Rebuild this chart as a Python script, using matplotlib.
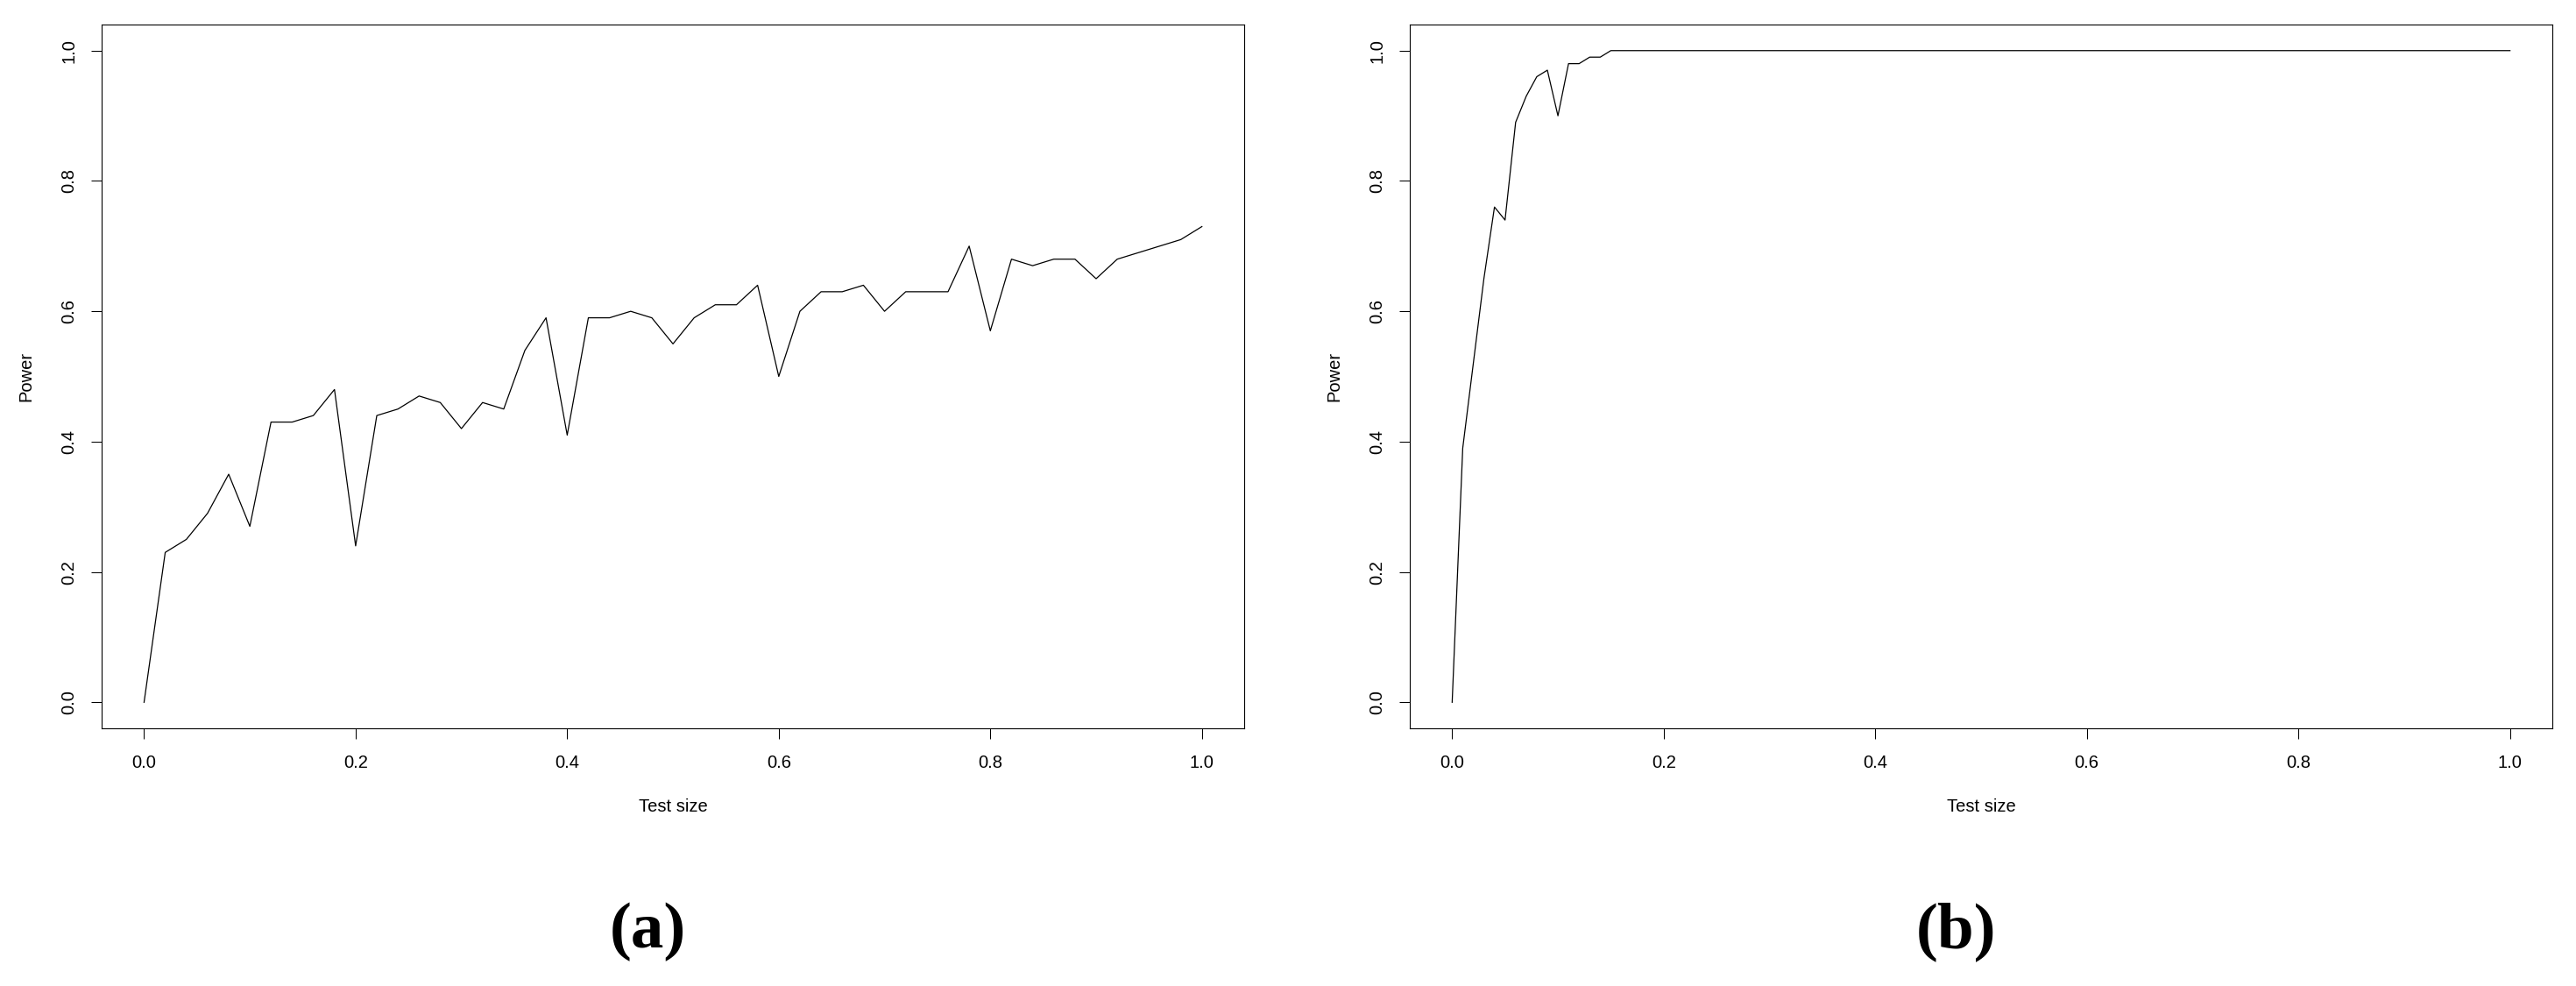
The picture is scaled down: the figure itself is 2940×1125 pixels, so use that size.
import matplotlib.pyplot as plt

# Datos
tam_a = [0.00, 0.02, 0.04, 0.06, 0.08, 0.10, 0.12, 0.14, 0.16, 0.18,
         0.20, 0.22, 0.24, 0.26, 0.28, 0.30, 0.32, 0.34, 0.36, 0.38,
         0.40, 0.42, 0.44, 0.46, 0.48, 0.50, 0.52, 0.54, 0.56, 0.58,
         0.60, 0.62, 0.64, 0.66, 0.68, 0.70, 0.72, 0.74, 0.76, 0.78,
         0.80, 0.82, 0.84, 0.86, 0.88, 0.90, 0.92, 0.94, 0.96, 0.98,
         1.00]
potencia_a = [0.00, 0.23, 0.25, 0.29, 0.35, 0.27, 0.43, 0.43, 0.44, 0.48,
              0.24, 0.44, 0.45, 0.47, 0.46, 0.42, 0.46, 0.45, 0.54, 0.59,
              0.41, 0.59, 0.59, 0.60, 0.59, 0.55, 0.59, 0.61, 0.61, 0.64,
              0.50, 0.60, 0.63, 0.63, 0.64, 0.60, 0.63, 0.63, 0.63, 0.70,
              0.57, 0.68, 0.67, 0.68, 0.68, 0.65, 0.68, 0.69, 0.70, 0.71,
              0.73]

tam_b = [0.00, 0.01, 0.02, 0.03, 0.04, 0.05, 0.06, 0.07, 0.08, 0.09,
         0.10, 0.11, 0.12, 0.13, 0.14, 0.15, 0.16, 0.17, 0.18, 0.19,
         0.20, 0.21, 0.22, 0.23, 0.24, 0.25, 0.26, 0.27, 0.28, 0.29,
         0.30, 0.31, 0.32, 0.33, 0.34, 0.35, 0.36, 0.37, 0.38, 0.39,
         0.40, 0.41, 0.42, 0.43, 0.44, 0.45, 0.46, 0.47, 0.48, 0.49,
         0.50, 0.51, 0.52, 0.53, 0.54, 0.55, 0.56, 0.57, 0.58, 0.59,
         0.60, 0.61, 0.62, 0.63, 0.64, 0.65, 0.66, 0.67, 0.68, 0.69,
         0.70, 0.71, 0.72, 0.73, 0.74, 0.75, 0.76, 0.77, 0.78, 0.79,
         0.80, 0.81, 0.82, 0.83, 0.84, 0.85, 0.86, 0.87, 0.88, 0.89,
         0.90, 0.91, 0.92, 0.93, 0.94, 0.95, 0.96, 0.97, 0.98, 0.99,
         1.00]
potencia_b = [0.00, 0.39, 0.52, 0.65, 0.76, 0.74, 0.89, 0.93, 0.96, 0.97,
              0.90, 0.98, 0.98, 0.99, 0.99, 1.00, 1.00, 1.00, 1.00, 1.00,
              1.00, 1.00, 1.00, 1.00, 1.00, 1.00, 1.00, 1.00, 1.00, 1.00,
              1.00, 1.00, 1.00, 1.00, 1.00, 1.00, 1.00, 1.00, 1.00, 1.00,
              1.00, 1.00, 1.00, 1.00, 1.00, 1.00, 1.00, 1.00, 1.00, 1.00,
              1.00, 1.00, 1.00, 1.00, 1.00, 1.00, 1.00, 1.00, 1.00, 1.00,
              1.00, 1.00, 1.00, 1.00, 1.00, 1.00, 1.00, 1.00, 1.00, 1.00,
              1.00, 1.00, 1.00, 1.00, 1.00, 1.00, 1.00, 1.00, 1.00, 1.00,
              1.00, 1.00, 1.00, 1.00, 1.00, 1.00, 1.00, 1.00, 1.00, 1.00,
              1.00, 1.00, 1.00, 1.00, 1.00, 1.00, 1.00, 1.00, 1.00, 1.00,
              1.00]

ticks = [0.0, 0.2, 0.4, 0.6, 0.8, 1.0]
etiquetas = ['0.0', '0.2', '0.4', '0.6', '0.8', '1.0']

plt.rcParams['font.family'] = ['Liberation Sans', 'DejaVu Sans']

fig = plt.figure(figsize=(29.4, 11.25), dpi=100)

paneles = [
    (0.0395, tam_a, potencia_a, '(a)', 0.2514),
    (0.5473, tam_b, potencia_b, '(b)', 0.7595),
]

for x0, tam, pot, letra, xc in paneles:
    ax = fig.add_axes([x0, 0.2613, 0.4435, 0.7138])
    ax.plot(tam, pot, color='black', linewidth=0.9)
    ax.set_xlim(-0.04, 1.04)
    ax.set_ylim(-0.04, 1.04)
    ax.set_xticks(ticks)
    ax.set_xticklabels(etiquetas, fontsize=14.5)
    ax.set_yticks(ticks)
    ax.set_yticklabels(etiquetas, fontsize=14.5, rotation=90, va='center')
    ax.tick_params(axis='both', length=8.6, width=0.75, color='black')
    ax.tick_params(axis='x', pad=13)
    ax.tick_params(axis='y', pad=11.5)
    for s in ax.spines.values():
        s.set_linewidth(0.8)
    ax.set_xlabel('Test size', fontsize=14.5, va='center')
    ax.xaxis.set_label_coords(0.5, -0.111)
    ax.set_ylabel('Power', fontsize=14.5, va='center')
    ax.yaxis.set_label_coords(-0.0663, 0.5)
    fig.text(xc, 1 - 1063 / 1125, letra, fontsize=54, fontweight='bold',
             family='Liberation Serif', ha='center', va='center')

fig.savefig('out.png', dpi=100, facecolor='white')
